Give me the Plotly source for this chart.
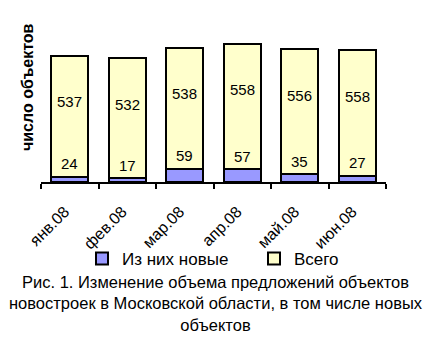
import plotly.graph_objects as go

months = ["янв.08", "фев.08", "мар.08", "апр.08", "май.08", "июн.08"]
new_objects = [24, 17, 59, 57, 35, 27]
total_objects = [537, 532, 538, 558, 556, 558]

FONT = "Liberation Sans, Arial, sans-serif"

fig = go.Figure()
fig.add_trace(go.Bar(
    x=months, y=new_objects, name="Из них новые", legend="legend",
    marker=dict(color="#9999FF", line=dict(color="black", width=2)),
))
fig.add_trace(go.Bar(
    x=months, y=total_objects, name="Всего", legend="legend2",
    marker=dict(color="#FFFFCC", line=dict(color="black", width=2)),
))

annotations = []
for m, n, t in zip(months, new_objects, total_objects):
    annotations.append(dict(x=m, y=n + t, text=str(t), showarrow=False,
                            yshift=-46, font=dict(size=15, color="black", family=FONT)))
    annotations.append(dict(x=m, y=n, text=str(n), showarrow=False,
                            yshift=13, font=dict(size=15, color="black", family=FONT)))

annotations.append(dict(
    xref="paper", yref="paper", x=(27 - 41) / 345, y=(182 - 87) / 180,
    xanchor="center", yanchor="middle", text="<b>число объектов</b>",
    textangle=-90, showarrow=False, font=dict(size=16, color="black", family=FONT),
))
annotations.append(dict(
    xref="paper", yref="paper", x=(216 - 41) / 345, y=(182 - 303.5) / 180,
    xanchor="center", yanchor="middle",
    text="Рис. 1. Изменение объема предложений объектов<br>новостроек в Московской области, в том числе новых<br>объектов",
    showarrow=False, align="center", font=dict(size=16.5, color="black", family=FONT),
))

legend_common = dict(orientation="h", xanchor="left", yanchor="middle",
                     y=(182 - 259) / 180,
                     font=dict(size=17, color="black", family=FONT),
                     bgcolor="rgba(0,0,0,0)")

fig.update_layout(
    width=432, height=352,
    margin=dict(l=41, r=46, t=2, b=170),
    barmode="stack", bargap=0.36,
    paper_bgcolor="white", plot_bgcolor="white",
    font=dict(family=FONT, color="black"),
    annotations=annotations,
    showlegend=True,
    legend=dict(x=(82 - 41) / 345, **legend_common),
    legend2=dict(x=(254 - 41) / 345, **legend_common),
    xaxis=dict(showline=True, linecolor="black", linewidth=2,
               ticks="outside", tickson="boundaries", ticklen=5, tickwidth=2,
               tickcolor="black", tickangle=-45,
               ticklabelstandoff=12, ticklabelshift=-5,
               tickfont=dict(size=16, color="black", family=FONT),
               showgrid=False, zeroline=False, fixedrange=True),
    yaxis=dict(range=[0, 800], visible=False, showgrid=False, zeroline=False),
)

fig.write_html("out.html")
